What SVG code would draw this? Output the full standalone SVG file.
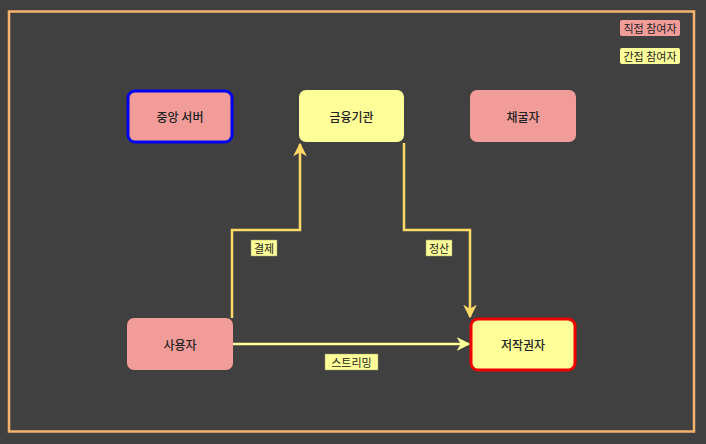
<svg xmlns="http://www.w3.org/2000/svg" width="706" height="444" viewBox="0 0 706 444">
<defs>
<style>
.t{font-family:"Noto Sans CJK KR","Noto Sans",sans-serif;font-size:12px;font-weight:500;fill:#222;text-anchor:middle;dominant-baseline:central}
.ts{font-family:"Noto Sans CJK KR","Noto Sans",sans-serif;font-size:11px;fill:#222;text-anchor:middle;dominant-baseline:central}
.pink{fill:#f19c99}
.yel{fill:#ffff99}
.c1{fill:none;stroke:#ffd966;stroke-width:2.5}
.c2{fill:none;stroke:#ffff99;stroke-width:2.5}
.lbl{fill:#ffff99;stroke:#999966;stroke-width:0.5}
</style>
<marker id="a1" viewBox="0 0 10 10" refX="9" refY="5" markerWidth="5.5" markerHeight="5.5" orient="auto" markerUnits="strokeWidth"><path d="M0,0 L10,5 L0,10 L3,5 Z" fill="#ffd966"/></marker>
<marker id="a2" viewBox="0 0 10 10" refX="9" refY="5" markerWidth="5.5" markerHeight="5.5" orient="auto" markerUnits="strokeWidth"><path d="M0,0 L10,5 L0,10 L3,5 Z" fill="#ffff99"/></marker>
</defs>
<rect width="706" height="444" fill="#404040"/>
<rect x="9" y="11.5" width="685" height="420" fill="none" stroke="#f7b26e" stroke-width="2.5"/>
<g id="connectors">
<path class="c1" d="M232,318 V230 H300 V144" marker-end="url(#a1)"/>
<path class="c1" d="M404,143 V230 H470 V317" marker-end="url(#a1)"/>
<path class="c2" d="M233,344 H469" marker-end="url(#a2)"/>
<g id="lbl-gyeolje"><rect class="lbl" x="251" y="240" width="26" height="16"/><text class="ts" x="264" y="248">결제</text></g>
<g id="lbl-jeongsan"><rect class="lbl" x="426" y="240" width="26" height="16"/><text class="ts" x="439" y="248">정산</text></g>
<g id="lbl-streaming"><rect class="lbl" x="325" y="354" width="53" height="16"/><text class="ts" x="351.5" y="362">스트리밍</text></g>
</g>
<g id="server"><rect class="pink" x="128" y="91" width="104" height="51" rx="7" stroke="#0000ee" stroke-width="3"/><text class="t" x="180" y="116.5">중앙 서버</text></g>
<g id="bank"><rect class="yel" x="299" y="90" width="105" height="52" rx="7"/><text class="t" x="351.5" y="116">금융기관</text></g>
<g id="miner"><rect class="pink" x="470" y="90" width="106" height="52" rx="7"/><text class="t" x="523" y="116">채굴자</text></g>
<g id="user"><rect class="pink" x="127" y="318" width="106" height="52" rx="7"/><text class="t" x="180" y="344">사용자</text></g>
<g id="owner"><rect class="yel" x="471" y="319" width="104" height="51" rx="7" stroke="#ee0000" stroke-width="3"/><text class="t" x="523" y="344.5">저작권자</text></g>
<g id="legend-direct"><rect class="pink" x="620" y="20" width="60" height="16" rx="2"/><text class="ts" x="650" y="28">직접 참여자</text></g>
<g id="legend-indirect"><rect class="yel" x="620" y="48" width="60" height="16" rx="2"/><text class="ts" x="650" y="56">간접 참여자</text></g>
</svg>
